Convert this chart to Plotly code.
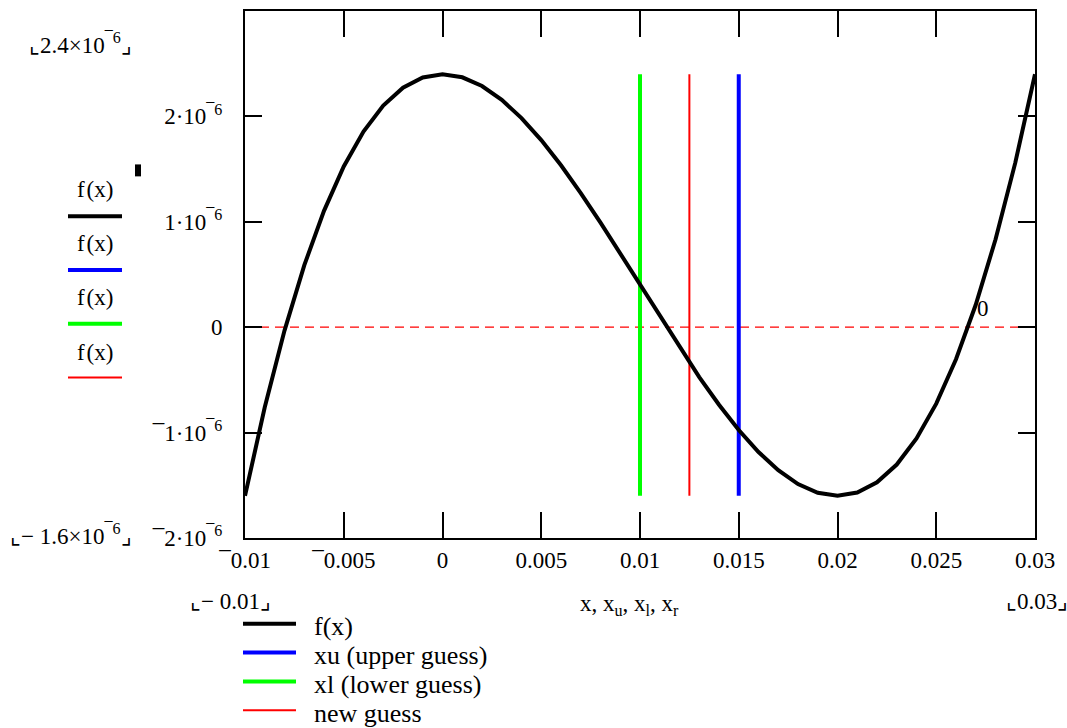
import plotly.graph_objects as go

# curve samples (f in units of 1e-6)
x_vals = [-0.010, -0.009, -0.008, -0.007, -0.006, -0.005, -0.004, -0.003, -0.002, -0.001,
          0.000, 0.001, 0.002, 0.003, 0.004, 0.005, 0.006, 0.007, 0.008, 0.009,
          0.010, 0.011, 0.012, 0.013, 0.014, 0.015, 0.016, 0.017, 0.018, 0.019,
          0.020, 0.021, 0.022, 0.023, 0.024, 0.025, 0.026, 0.027, 0.028, 0.029, 0.030]
f_micro = [-1.600, -0.759, -0.032, 0.587, 1.104, 1.525, 1.856, 2.103, 2.272, 2.369,
           2.400, 2.371, 2.288, 2.157, 1.984, 1.775, 1.536, 1.273, 0.992, 0.699,
           0.400, 0.101, -0.192, -0.473, -0.736, -0.975, -1.184, -1.357, -1.488, -1.571,
           -1.600, -1.569, -1.472, -1.303, -1.056, -0.725, -0.304, 0.213, 0.832, 1.559, 2.400]
f_vals = [v * 1e-6 for v in f_micro]

# guess lines
xu = 0.015
xl = 0.010
xr = 0.0125
guess_span = [-1.6e-6, 2.4e-6]

x_range = [-0.01, 0.03]
y_range = [-2e-6, 3e-6]
x_ticks = [-0.01, -0.005, 0, 0.005, 0.01, 0.015, 0.02, 0.025, 0.03]
x_ticktext = ["¯0.01", "¯0.005", "0", "0.005", "0.01", "0.015", "0.02", "0.025", "0.03"]
y_ticks = [-2e-6, -1e-6, 0, 1e-6, 2e-6]
y_ticktext = ["¯2·10<sup>¯6</sup>", "¯1·10<sup>¯6</sup>", "0", "1·10<sup>¯6</sup>", "2·10<sup>¯6</sup>"]

legend_names = ["f(x)", "xu (upper guess)", "xl (lower guess)", "new guess"]
legend_colors = ["black", "#0000ff", "#00ff00", "#ff0000"]
legend_widths = [4, 4, 4, 2]

W, H = 1067, 728
ML, MR, MT, MB = 245, 32, 9, 190
FONT = "Liberation Serif, Times New Roman, serif"


def px(x):
    return (x - ML) / (W - ML - MR)


def py(y):
    return (H - MB - y) / (H - MT - MB)


fig = go.Figure()
fig.add_trace(go.Scatter(x=x_range, y=[0, 0], mode="lines",
                         line=dict(color="#ff0000", width=1.2, dash="9px,6px"),
                         showlegend=False, hoverinfo="skip"))
fig.add_trace(go.Scatter(x=[xl, xl], y=guess_span, mode="lines",
                         line=dict(color="#00ff00", width=4), showlegend=False))
fig.add_trace(go.Scatter(x=[xr, xr], y=guess_span, mode="lines",
                         line=dict(color="#ff0000", width=2), showlegend=False))
fig.add_trace(go.Scatter(x=[xu, xu], y=guess_span, mode="lines",
                         line=dict(color="#0000ff", width=4), showlegend=False))
fig.add_trace(go.Scatter(x=x_vals, y=f_vals, mode="lines",
                         line=dict(color="black", width=4), showlegend=False))

annos = []
shapes = []


def text(x, y, s, anchor="center", size=23):
    annos.append(dict(x=px(x), y=py(y), xref="paper", yref="paper", text=s,
                      showarrow=False, xanchor=anchor, yanchor="middle",
                      font=dict(family=FONT, size=size, color="black")))


def hline(x0, x1, y, color, width):
    shapes.append(dict(type="line", xref="paper", yref="paper",
                       x0=px(x0), x1=px(x1), y0=py(y), y1=py(y),
                       line=dict(color=color, width=width)))


# Mathcad axis limit labels
text(80, 42, "⌞2.4×10<sup>¯6</sup>⌟")
text(71, 534, "⌞− 1.6×10<sup>¯6</sup>⌟")
text(230, 602, "⌞− 0.01⌟")
text(1037, 602, "⌞0.03⌟")
text(629, 605, "x, x<sub>u</sub>, x<sub>l</sub>, x<sub>r</sub>")
text(983, 308, "0")

# y-axis trace labels
for i, (c, w) in enumerate(zip(legend_colors, legend_widths)):
    text(95, 188 + 54.5 * i, "f\u200a(x)")
    hline(68, 122, 215 + 54 * i, c, w)

shapes.append(dict(type="rect", xref="paper", yref="paper",
                   x0=px(135), x1=px(141), y0=py(175), y1=py(163),
                   fillcolor="black", line=dict(width=0)))

# bottom legend
for i, (name, c, w) in enumerate(zip(legend_names, legend_colors, legend_widths)):
    hline(243, 296, 624 + 29 * i, c, w)
    text(312, 627 + 29 * i, name, anchor="left", size=26)

fig.update_layout(
    width=W, height=H,
    margin=dict(l=ML, r=MR, t=MT, b=MB),
    paper_bgcolor="white", plot_bgcolor="white",
    font=dict(family=FONT, size=23, color="black"),
    annotations=annos, shapes=shapes,
    xaxis=dict(range=x_range, tickvals=x_ticks, ticktext=x_ticktext,
               showgrid=False, zeroline=False, showline=True, linecolor="black",
               linewidth=2, mirror="allticks", ticks="inside", ticklen=26,
               tickwidth=2, tickcolor="black", ticklabelstandoff=0),
    yaxis=dict(range=y_range, tickvals=y_ticks, ticktext=y_ticktext,
               showgrid=False, zeroline=False, showline=True, linecolor="black",
               linewidth=2, mirror="allticks", ticks="inside", ticklen=17,
               tickwidth=2, tickcolor="black", ticklabelstandoff=16),
)

fig.write_html("out.html", config={"displayModeBar": False},
               post_script="document.body.style.margin='0';")
